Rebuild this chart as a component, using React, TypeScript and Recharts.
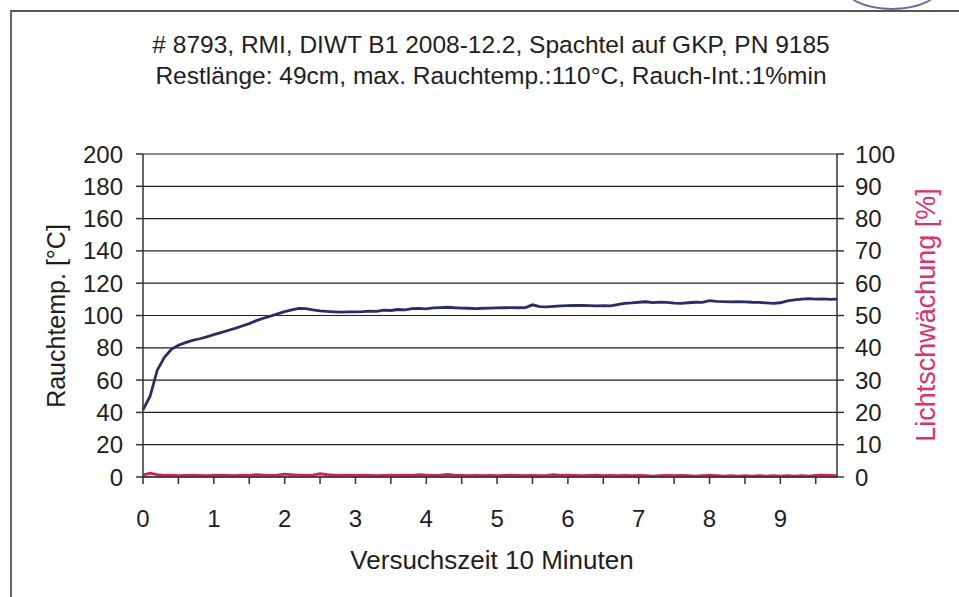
import React from "react";
import { LineChart, Line, XAxis, YAxis, CartesianGrid } from "recharts";

// Versuchszeit in Minuten (0.1 min Schritte)
const minutes = [
  0, 0.1, 0.2, 0.3, 0.4, 0.5, 0.6, 0.7, 0.8, 0.9,
  1, 1.1, 1.2, 1.3, 1.4, 1.5, 1.6, 1.7, 1.8, 1.9,
  2, 2.1, 2.2, 2.3, 2.4, 2.5, 2.6, 2.7, 2.8, 2.9,
  3, 3.1, 3.2, 3.3, 3.4, 3.5, 3.6, 3.7, 3.8, 3.9,
  4, 4.1, 4.2, 4.3, 4.4, 4.5, 4.6, 4.7, 4.8, 4.9,
  5, 5.1, 5.2, 5.3, 5.4, 5.5, 5.6, 5.7, 5.8, 5.9,
  6, 6.1, 6.2, 6.3, 6.4, 6.5, 6.6, 6.7, 6.8, 6.9,
  7, 7.1, 7.2, 7.3, 7.4, 7.5, 7.6, 7.7, 7.8, 7.9,
  8, 8.1, 8.2, 8.3, 8.4, 8.5, 8.6, 8.7, 8.8, 8.9,
  9, 9.1, 9.2, 9.3, 9.4, 9.5, 9.6, 9.7, 9.8,
];

// Rauchtemperatur [°C]
const rauchtemp = [
  41.5, 50, 66, 74, 79, 81.6, 83.2, 84.6, 85.6, 86.8,
  88.2, 89.4, 90.7, 92, 93.5, 95, 96.8, 98.3, 99.6, 101,
  102.4, 103.5, 104.4, 104.3, 103.5, 102.9, 102.5, 102.3, 102.1, 102.3,
  102.2, 102.4, 102.7, 102.5, 103.3, 103.1, 103.7, 103.5, 104.2, 104.4,
  104.1, 104.7, 104.9, 105.1, 104.8, 104.6, 104.5, 104.3, 104.5, 104.6,
  104.7, 104.8, 104.9, 104.8, 104.9, 106.6, 105.5, 105.3, 105.6, 105.9,
  106.1, 106.2, 106.2, 106.1, 106, 106.1, 106, 106.7, 107.5, 107.8,
  108.2, 108.5, 108, 108.3, 108.1, 107.7, 107.5, 107.9, 108.2, 108.1,
  109.2, 108.7, 108.6, 108.4, 108.6, 108.4, 108.2, 108.1, 107.8, 107.5,
  107.9, 109.1, 109.7, 110.1, 110.4, 110.2, 110.3, 110, 110.1,
];

// Lichtschwächung [%]
const lichtschwaechung = [
  0.6, 1.2, 0.7, 0.5, 0.6, 0.4, 0.5, 0.6, 0.5, 0.4,
  0.5, 0.6, 0.5, 0.4, 0.6, 0.5, 0.7, 0.6, 0.5, 0.6,
  0.9, 0.7, 0.6, 0.5, 0.6, 1.0, 0.7, 0.6, 0.5, 0.6,
  0.5, 0.6, 0.5, 0.4, 0.5, 0.6, 0.5, 0.6, 0.5, 0.7,
  0.6, 0.5, 0.6, 0.8, 0.6, 0.5, 0.4, 0.5, 0.4, 0.5,
  0.4, 0.5, 0.6, 0.5, 0.4, 0.5, 0.4, 0.5, 0.7, 0.5,
  0.6, 0.5, 0.4, 0.5, 0.6, 0.4, 0.5, 0.4, 0.5, 0.4,
  0.5, 0.4, 0.3, 0.4, 0.5, 0.4, 0.5, 0.4, 0.3, 0.4,
  0.5, 0.4, 0.3, 0.4, 0.3, 0.4, 0.3, 0.4, 0.3, 0.4,
  0.3, 0.4, 0.3, 0.4, 0.3, 0.5, 0.6, 0.5, 0.4,
];

const leftTicks = [0, 20, 40, 60, 80, 100, 120, 140, 160, 180, 200];
const rightTicks = [0, 10, 20, 30, 40, 50, 60, 70, 80, 90, 100];
const xTicks = [0, 0.5, 1, 1.5, 2, 2.5, 3, 3.5, 4, 4.5, 5, 5.5, 6, 6.5, 7, 7.5, 8, 8.5, 9, 9.5];

const titleLine1 = "# 8793, RMI, DIWT B1 2008-12.2, Spachtel auf GKP, PN 9185";
const titleLine2 = "Restlänge: 49cm, max. Rauchtemp.:110°C, Rauch-Int.:1%min";
const xTitle = "Versuchszeit 10 Minuten";
const leftTitle = "Rauchtemp. [°C]";
const rightTitle = "Lichtschwächung [%]";

const data = minutes.map((t, i) => ({
  t,
  temp: rauchtemp[i],
  licht: lichtschwaechung[i],
}));

const font = '"Liberation Sans", Arial, sans-serif';
const ink = "#1e1e1e";
const tickStyle = { fontSize: 24, fill: ink, fontFamily: font };

const rotated = (cx: number, cy: number, color: string, text: string, size: number) => (
  <div
    style={{
      position: "absolute",
      left: cx - 200,
      top: cy - 15,
      width: 400,
      height: 30,
      lineHeight: "30px",
      textAlign: "center",
      fontSize: size,
      color,
      transform: "rotate(-90deg)",
      whiteSpace: "nowrap",
    }}
  >
    {text}
  </div>
);

export default function App() {
  return (
    <div style={{ position: "absolute", left: 0, top: 0, width: 959, height: 597, background: "#fff", fontFamily: font, overflow: "hidden" }}>
      {/* Rahmen des Diagramms */}
      <div style={{ position: "absolute", left: 10, top: 10, width: 960, height: 600, borderTop: "2px solid #555", borderLeft: "2px solid #666" }} />
      {/* Stempel oben rechts */}
      <div style={{ position: "absolute", left: 842, top: -40, width: 96, height: 46, borderRadius: "50%", border: "2px solid #6a6aa8" }} />

      <div style={{ position: "absolute", left: 0, width: 982, top: 29, textAlign: "center", fontSize: 24.5, lineHeight: "31px", color: ink }}>
        <div>{titleLine1}</div>
        <div>{titleLine2}</div>
      </div>

      <LineChart
        width={959}
        height={597}
        data={data}
        margin={{ top: 154, right: 42, left: 63, bottom: 60 }}
        style={{ position: "absolute", left: 0, top: 0 }}
      >
        <CartesianGrid yAxisId="left" vertical={false} horizontal stroke="#222" strokeWidth={1.2} />
        <XAxis
          dataKey="t"
          type="number"
          domain={[0, 9.8]}
          ticks={xTicks}
          interval={0}
          tickFormatter={(v: number) => (Number.isInteger(v) ? String(v) : "")}
          tick={tickStyle}
          tickSize={7}
          tickMargin={26}
          height={60}
          stroke="#333"
          strokeWidth={1.5}
        />
        <YAxis
          yAxisId="left"
          domain={[0, 200]}
          ticks={leftTicks}
          interval={0}
          tick={tickStyle}
          tickSize={7}
          tickMargin={13}
          width={80}
          stroke="#333"
          strokeWidth={1.5}
        />
        <YAxis
          yAxisId="right"
          orientation="right"
          domain={[0, 100]}
          ticks={rightTicks}
          interval={0}
          tick={tickStyle}
          tickSize={7}
          tickMargin={11}
          width={80}
          stroke="#333"
          strokeWidth={1.5}
        />
        <Line yAxisId="left" type="linear" dataKey="temp" stroke="#2b2d6b" strokeWidth={2.8} dot={false} isAnimationActive={false} />
        <Line yAxisId="right" type="linear" dataKey="licht" stroke="#d81b5a" strokeWidth={2.8} dot={false} isAnimationActive={false} />
      </LineChart>

      {rotated(56, 316, ink, leftTitle, 25)}
      {rotated(926, 315, "#e0306a", rightTitle, 27)}
      <div style={{ position: "absolute", left: 292, width: 400, top: 545, textAlign: "center", fontSize: 26, lineHeight: "30px", color: ink }}>
        {xTitle}
      </div>
    </div>
  );
}
